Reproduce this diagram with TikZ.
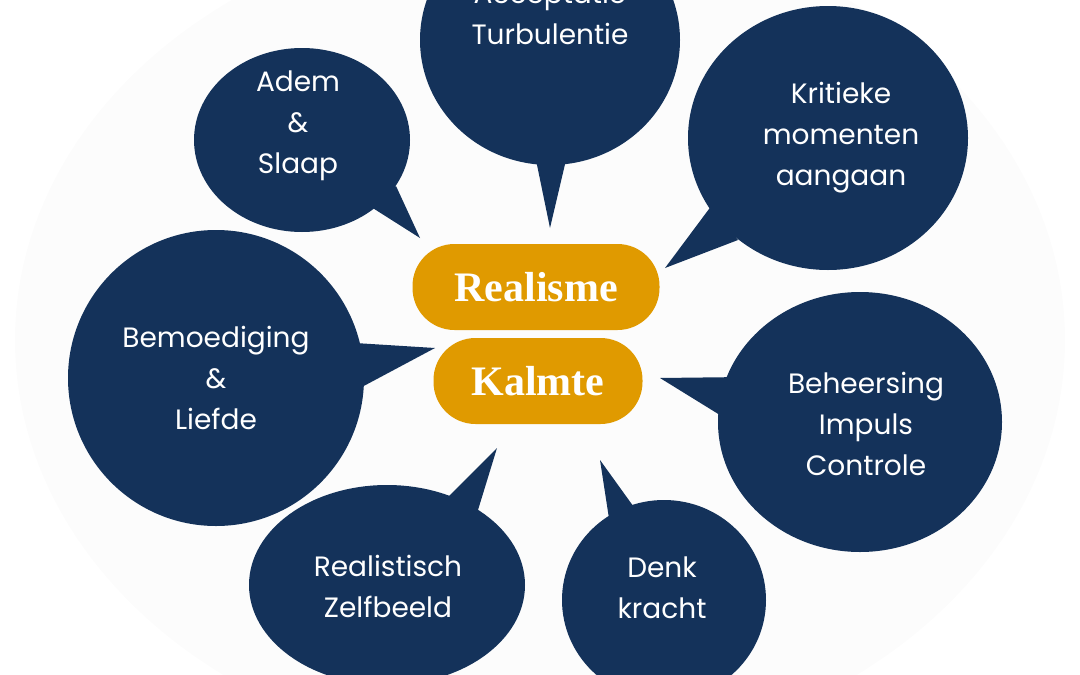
\documentclass[tikz,border=0pt]{standalone}
\usepackage{fontspec}
\setmainfont{Poppins}
\newfontfamily\serifb{Liberation Serif}
\definecolor{navy}{HTML}{14325A}
\definecolor{gold}{HTML}{E09A00}
\begin{document}
\begin{tikzpicture}[x=1pt,y=-1pt,
  bub/.style={fill=navy,draw=none},
  txt/.style={text=white,align=center,font=\fontsize{28}{41}\selectfont},
  pill/.style={fill=gold,rounded corners=42pt,draw=none,text=white,font=\serifb\bfseries\fontsize{42}{42}\selectfont,minimum height=86pt}]
\useasboundingbox (0,0) rectangle (1080,675);
\fill[gray!2] (540,340) ellipse [x radius=525, y radius=420];
% bubbles with tails
\fill[bub] (550,40) ellipse [x radius=130, y radius=125];
\fill[bub] (536,160) -- (550,228) -- (566,160) -- cycle;
\fill[bub] (302,140) ellipse [x radius=108, y radius=92];
\fill[bub] (368,205) -- (420,238) -- (396,186) -- cycle;
\fill[bub] (828,138) ellipse [x radius=140, y radius=132];
\fill[bub] (712,205) -- (665,268) -- (738,240) -- cycle;
\fill[bub] (216,378) ellipse [x radius=148, y radius=148];
\fill[bub] (355,343) -- (435,348) -- (360,388) -- cycle;
\fill[bub] (860,422) ellipse [x radius=142, y radius=130];
\fill[bub] (745,377) -- (660,378) -- (728,420) -- cycle;
\fill[bub] (387,585) ellipse [x radius=138, y radius=100];
\fill[bub] (445,500) -- (497,448) -- (478,510) -- cycle;
\fill[bub] (664,600) ellipse [x radius=102, y radius=100];
\fill[bub] (610,525) -- (600,460) -- (636,510) -- cycle;
% texts
\node[txt] (acc) at (550,13) {Acceptatie\\Turbulentie};
\node[txt] (adem) at (298,126) {Adem\\\&\\Slaap};
\node[txt] (krit) at (841,138) {Kritieke\\momenten\\aangaan};
\node[txt] (bem) at (216,378) {Bemoediging\\\&\\Liefde};
\node[txt] (beh) at (866,424) {Beheersing\\Impuls\\Controle};
\node[txt] (real) at (388,586) {Realistisch\\Zelfbeeld};
\node[txt] (denk) at (662,588) {Denk\\kracht};
\node[pill,minimum width=247pt] (rea) at (536,287) {Realisme};
\node[pill,minimum width=209pt] (kal) at (538,381) {Kalmte};
\end{tikzpicture}
\end{document}
